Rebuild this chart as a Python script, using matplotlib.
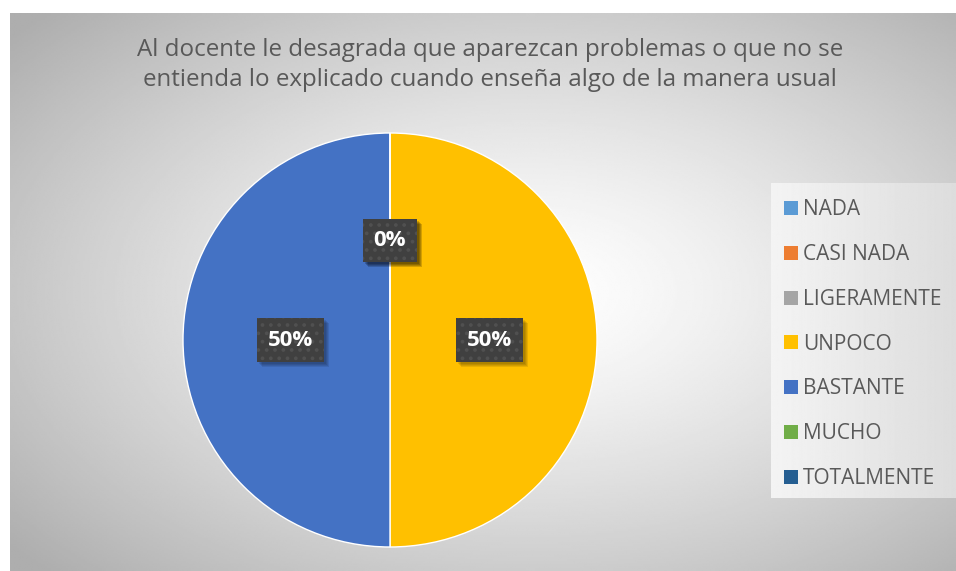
import numpy as np
import matplotlib.pyplot as plt
from matplotlib.patches import Patch, Rectangle
from matplotlib.transforms import IdentityTransform

plt.rcParams['font.family'] = ['Open Sans', 'DejaVu Sans']
plt.rcParams['hatch.linewidth'] = 1.5

title = "Al docente le desagrada que aparezcan problemas o que no se\nentienda lo explicado cuando enseña algo de la manera usual"
categories = ['NADA', 'CASI NADA', 'LIGERAMENTE', 'UNPOCO', 'BASTANTE', 'MUCHO', 'TOTALMENTE']
values = [0, 0, 0, 1, 1, 0, 0]
colors = ['#5B9BD5', '#ED7D31', '#A5A5A5', '#FFC000', '#4472C4', '#70AD47', '#255E91']

W, H = 956, 571
fig = plt.figure(figsize=(W / 100, H / 100), dpi=100)
fig.patch.set_facecolor('white')

# radial gradient background of the chart area
bg = fig.add_axes([10 / W, 0, 1 - 10 / W, (H - 13) / H])
yy, xx = np.mgrid[0:1:300j, 0:1:500j]
r = np.sqrt(((xx - 0.55) / 1.0) ** 2 + ((yy - 0.5) / 1.0) ** 2)
shade = 1.0 - 0.32 * np.clip(r / 0.72, 0, 1) ** 1.3
bg.imshow(shade, cmap='gray', vmin=0, vmax=1, aspect='auto', extent=[0, 1, 0, 1], interpolation='bilinear')
bg.set_axis_off()

# legend panel (slightly lighter, horizontal gradient)
lp = fig.add_axes([771 / W, (H - 498) / H, (956 - 771) / W, (498 - 183) / H])
gx = np.linspace(0, 1, 200)[None, :].repeat(10, axis=0)
lp.imshow(0.955 - 0.09 * gx, cmap='gray', vmin=0, vmax=1, aspect='auto', extent=[0, 1, 0, 1])
lp.set_axis_off()

fig.text(490 / W, 1 - 65 / H, title, ha='center', va='center', fontsize=17.4,
         color='#595959', linespacing=1.32)

cx, cy, rad = 390, 340, 207
ax = fig.add_axes([(cx - rad) / W, (H - cy - rad) / H, 2 * rad / W, 2 * rad / H])
wedges, _ = ax.pie(values, colors=colors, startangle=90, counterclock=False,
                   wedgeprops=dict(edgecolor='white', linewidth=1))
ax.set_xlim(-1, 1)
ax.set_ylim(-1, 1)
ax.set_aspect('equal')

# data labels; the zero slices all sit at the top and share one label spot
total = sum(values)
labels = {}
for w, v in zip(wedges, values):
    ang = np.deg2rad((w.theta1 + w.theta2) / 2)
    key = (round(0.48 * np.cos(ang), 4), round(0.48 * np.sin(ang), 4))
    labels[key] = f"{v / total:.0%}"

texts = []
for (x, y), lab in labels.items():
    t = ax.text(x, y, lab, ha='center', va='center', color='white', fontsize=16, fontweight='bold',
                zorder=5, bbox=dict(boxstyle='square,pad=0.5', facecolor='#404040', edgecolor='#505050',
                                    linewidth=0, hatch='..'))
    texts.append(t)

# soft shadows behind the label boxes
fig.canvas.draw()
for t in texts:
    bb = t.get_bbox_patch().get_window_extent()
    for d in (2, 3, 4, 5):
        ax.add_patch(Rectangle((bb.x0 + d, bb.y0 - d), bb.width, bb.height, transform=IdentityTransform(),
                               facecolor='black', edgecolor='none', alpha=0.09, zorder=4, clip_on=False))

handles = [Patch(facecolor=c, edgecolor='none') for c in colors]
fig.legend(handles, categories, loc='upper left', bbox_to_anchor=(774 / W, 1 - 189 / H),
           frameon=False, fontsize=15, labelcolor='#595959', handlelength=0.65,
           handleheight=0.65, handletextpad=0.25, labelspacing=1.14, borderpad=0)

fig.savefig('out.png', dpi=100)
